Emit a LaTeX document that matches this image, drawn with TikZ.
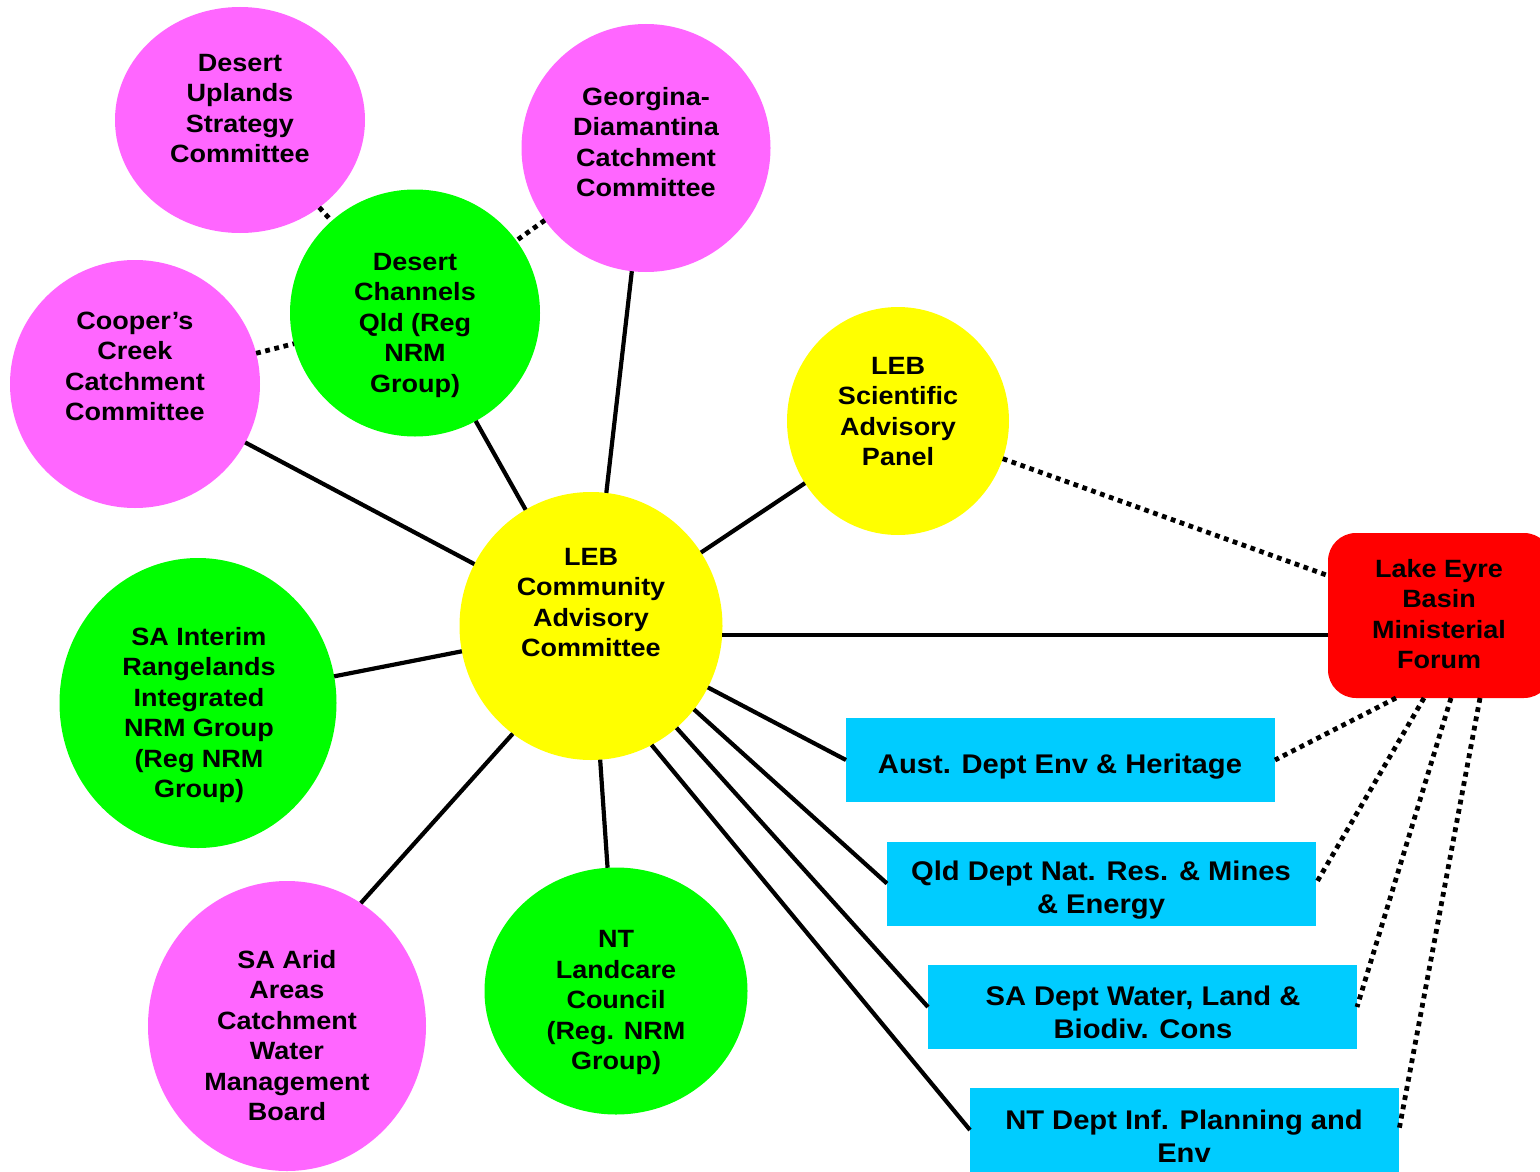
\documentclass[tikz,border=0pt]{standalone}
\usepackage{fontspec}
\setmainfont{Liberation Sans}[FakeStretch=1.08]
\usetikzlibrary{shapes.geometric,calc}
\definecolor{mag}{HTML}{FF66FF}
\definecolor{grn}{HTML}{00FF00}
\definecolor{yel}{HTML}{FFFF00}
\definecolor{fred}{HTML}{FF0000}
\definecolor{cyn}{HTML}{00CCFF}
\tikzset{
  circ/.style={ellipse, draw=none, inner sep=0pt, outer sep=0pt},
  lab/.style={align=center, font=\fontsize{25}{30.5}\selectfont\bfseries, inner sep=0pt},
  blab/.style={align=center, font=\fontsize{27}{33}\selectfont\bfseries, inner sep=0pt},
  dept/.style={rectangle, fill=cyn, minimum width=429pt, minimum height=84pt, inner sep=0pt, outer sep=0pt},
  conn/.style={line width=4.2pt},
  dotconn/.style={line width=4.8pt, dash pattern=on 4.8pt off 4.6pt},
}
\begin{document}
\begin{tikzpicture}[x=1pt,y=-1pt]
\useasboundingbox (0,0) rectangle (1540,1172);
\clip (0,0) rectangle (1540,1172);
\fill[white] (0,0) rectangle (1540,1172);
% shapes
\node[circ, fill=mag, minimum width=250pt, minimum height=226pt] (dus) at (240,120) {};
\node[circ, fill=mag, minimum width=249pt, minimum height=248pt] (gdc) at (646,148) {};
\node[circ, fill=grn, minimum width=250pt, minimum height=247pt] (dcq) at (415,313) {};
\node[circ, fill=mag, minimum width=250pt, minimum height=248pt] (coop) at (135,384) {};
\node[circ, fill=yel, minimum width=222pt, minimum height=228pt] (sci) at (898,421) {};
\node[circ, fill=yel, minimum width=263pt, minimum height=268pt] (cac) at (591,626) {};
\node[circ, fill=grn, minimum width=277pt, minimum height=290pt] (sai) at (198,703) {};
\node[circ, fill=mag, minimum width=278pt, minimum height=290pt] (arid) at (287,1026) {};
\node[circ, fill=grn, minimum width=263pt, minimum height=247pt] (ntl) at (616,991) {};
\node[rectangle, rounded corners=28pt, fill=fred, minimum width=224pt, minimum height=165pt, inner sep=0pt, outer sep=0pt] (forum) at (1440,615.5) {};
\node[dept] (aust) at (1060.5,760) {};
\node[dept] (qld) at (1101.5,883.5) {};
\node[dept] (sa) at (1142.5,1007) {};
\node[dept] (nt) at (1184.5,1130) {};
% solid connectors
\draw[conn] (cac) -- (coop);
\draw[conn] (cac) -- (dcq);
\draw[conn] (cac) -- (gdc);
\draw[conn] (cac) -- (sci);
\draw[conn] (cac.-4.4) -- (cac.-4.4 -| forum.west);
\draw[conn] (cac) -- (aust.west);
\draw[conn] (cac.-39.6) -- (qld.west);
\draw[conn] (cac.-50.4) -- (sa.west);
\draw[conn] (cac.-63) -- (nt.west);
\draw[conn] (cac) -- (ntl);
\draw[conn] (cac.234) -- (arid.59);
\draw[conn] (cac) -- (sai);
% dotted connectors
\draw[dotconn] (dus) -- (dcq);
\draw[dotconn] (gdc) -- (dcq);
\draw[dotconn] (coop) -- (dcq);
\draw[dotconn] (sci) -- (forum);
\draw[dotconn] ([xshift=-44pt]forum.south) -- (aust.east);
\draw[dotconn] ([xshift=-16pt]forum.south) -- (qld.east);
\draw[dotconn] ([xshift=11pt]forum.south) -- (sa.east);
\draw[dotconn] ([xshift=40pt]forum.south) -- (nt.east);
% texts
\node[lab] (dusT) at (240,108.5) {Desert\\Uplands\\Strategy\\Committee};
\node[lab] (gdcT) at (646,142) {Georgina-\\Diamantina\\Catchment\\Committee};
\node[lab] (dcqT) at (415,325) {Desert\\Channels\\Qld (Reg\\NRM\\Group)};
\node[lab] (coopT) at (135,366.5) {Cooper’s\\Creek\\Catchment\\Committee};
\node[lab] (sciT) at (898,411.5) {LEB\\Scientific\\Advisory\\Panel};
\node[lab] (cacT) at (591,602.5) {LEB\\Community\\Advisory\\Committee};
\node[lab] (saiT) at (199,715) {SA Interim\\Rangelands\\Integrated\\NRM Group\\(Reg NRM\\Group)};
\node[lab] (aridT) at (287,1035.5) {SA Arid\\Areas\\Catchment\\Water\\Management\\Board};
\node[lab] (ntlT) at (616,1002.5) {NT\\Landcare\\Council\\(Reg. NRM\\Group)};
\node[lab] (forumT) at (1439,614) {Lake Eyre\\Basin\\Ministerial\\Forum};
\node[blab] (austT) at (1060,767) {Aust. Dept Env \& Heritage};
\node[blab] (qldT) at (1101,890.5) {Qld Dept Nat. Res. \& Mines\\\& Energy};
\node[blab] (saT) at (1143,1012) {SA Dept Water, Land \&\\Biodiv. Cons};
\node[blab] (ntT) at (1184,1136) {NT Dept Inf. Planning and\\Env};
\end{tikzpicture}
\end{document}
